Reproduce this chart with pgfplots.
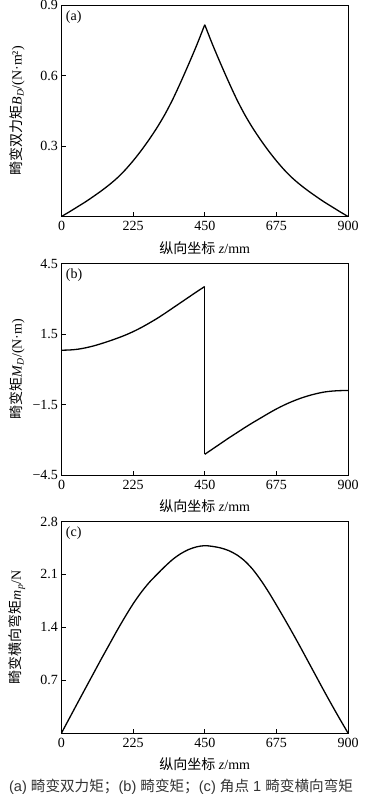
\documentclass[border=0pt]{standalone}
\usepackage{fontspec}
\setmainfont{Liberation Serif}
\newfontfamily\capsans{Liberation Sans}
\newfontfamily\cjk{Noto Sans CJK SC}
\usepackage{pgfplots}
\pgfplotsset{compat=1.18}
\pgfplotsset{
  panel/.style={
    scale only axis, width=286.5pt, height=211.5pt, anchor=south west,
    xmin=0, xmax=900, xtick={0,225,450,675,900}, xticklabels={0,225,450,675,900},
    tick align=inside, xtick pos=bottom, ytick pos=left, major tick length=4pt,
    axis line style={line width=0.8pt}, every tick/.style={black, line width=0.8pt},
    tick label style={font=\fontsize{14}{16}\selectfont},
    xticklabel style={yshift=-1.5pt},
    label style={font=\fontsize{14}{16}\selectfont},
    xlabel={{\cjk 纵向坐标} \textit{z}/mm},
    xlabel style={at={(axis description cs:0.5,-0.148)}, anchor=center},
    ylabel style={at={(axis description cs:-0.155,0.5)}, anchor=center},
  },
  curve/.style={black, line width=1.3pt, no marks, smooth, tension=0.5},
}
\begin{document}
\begin{tikzpicture}
\useasboundingbox (0,0) rectangle (367pt,794pt);
% (a)
\begin{axis}[panel, at={(61.5pt,577.5pt)},
  ymin=0, ymax=0.9, ytick={0.3,0.6,0.9}, yticklabels={0.3,0.6,0.9},
  ylabel={{\cjk 畸变双力矩}\textit{B}\textsubscript{\textit{D}}/(N·m²)}]
\addplot[curve] coordinates {(0,0) (25,0.020) (50,0.041) (75,0.062) (100,0.085) (125,0.109) (150,0.135) (175,0.164) (200,0.198) (225,0.237) (250,0.280) (275,0.327) (300,0.378) (325,0.435) (350,0.500) (375,0.573) (400,0.650) (425,0.730) (450,0.816)};
\addplot[curve] coordinates {(450,0.816) (475,0.730) (500,0.650) (525,0.573) (550,0.500) (575,0.435) (600,0.378) (625,0.327) (650,0.280) (675,0.237) (700,0.198) (725,0.164) (750,0.135) (775,0.109) (800,0.085) (825,0.062) (850,0.041) (875,0.020) (900,0)};
\node[anchor=north west, inner sep=0pt, font=\fontsize{14}{16}\selectfont] at (axis description cs:0.015,0.975) {(a)};
\end{axis}
% (b)
\begin{axis}[panel, at={(61.5pt,319pt)},
  ymin=-4.5, ymax=4.5, ytick={-4.5,-1.5,1.5,4.5}, yticklabels={−4.5,−1.5,1.5,4.5},
  ylabel={{\cjk 畸变矩}\textit{M}\textsubscript{\textit{D}}/(N·m)}]
\addplot[curve] coordinates {(0,0.81) (25,0.82) (50,0.85) (75,0.91) (100,0.99) (125,1.09) (150,1.20) (175,1.32) (200,1.45) (225,1.60) (250,1.77) (275,1.96) (300,2.16) (325,2.38) (350,2.61) (375,2.84) (400,3.07) (425,3.30) (450,3.52)};
\addplot[black, line width=1.3pt, no marks] coordinates {(450,3.52) (450,-3.62)};
\addplot[curve] coordinates {(450,-3.62) (475,-3.39) (500,-3.16) (525,-2.93) (550,-2.71) (575,-2.49) (600,-2.28) (625,-2.08) (650,-1.88) (675,-1.69) (700,-1.52) (725,-1.37) (750,-1.24) (775,-1.13) (800,-1.04) (825,-0.97) (850,-0.93) (875,-0.91) (900,-0.905)};
\node[anchor=north west, inner sep=0pt, font=\fontsize{14}{16}\selectfont] at (axis description cs:0.015,0.975) {(b)};
\end{axis}
% (c)
\begin{axis}[panel, at={(61.5pt,61pt)},
  ymin=0, ymax=2.8, ytick={0.7,1.4,2.1,2.8}, yticklabels={0.7,1.4,2.1,2.8},
  ylabel={{\cjk 畸变横向弯矩}\textit{m}\textsubscript{\textit{p}}/N}]
\addplot[curve] coordinates {(0,0) (25,0.197) (50,0.394) (75,0.59) (100,0.785) (125,0.98) (150,1.17) (175,1.36) (200,1.54) (225,1.71) (250,1.86) (275,1.99) (300,2.10) (325,2.205) (350,2.30) (375,2.375) (400,2.43) (425,2.465) (450,2.48)
 (475,2.47) (500,2.45) (525,2.415) (550,2.36) (575,2.28) (600,2.17) (625,2.03) (650,1.87) (675,1.695) (700,1.515) (725,1.33) (750,1.14) (775,0.945) (800,0.75) (825,0.555) (850,0.365) (875,0.18) (900,0)};
\node[anchor=north west, inner sep=0pt, font=\fontsize{14}{16}\selectfont] at (axis description cs:0.015,0.975) {(c)};
\end{axis}
\node[font=\fontsize{14.6}{17}\selectfont\capsans, text=black!80, inner sep=0pt] at (181pt,7.5pt) {(a) {\cjk 畸变双力矩；}(b) {\cjk 畸变矩；}(c) {\cjk 角点} 1 {\cjk 畸变横向弯矩}};
\end{tikzpicture}
\end{document}
